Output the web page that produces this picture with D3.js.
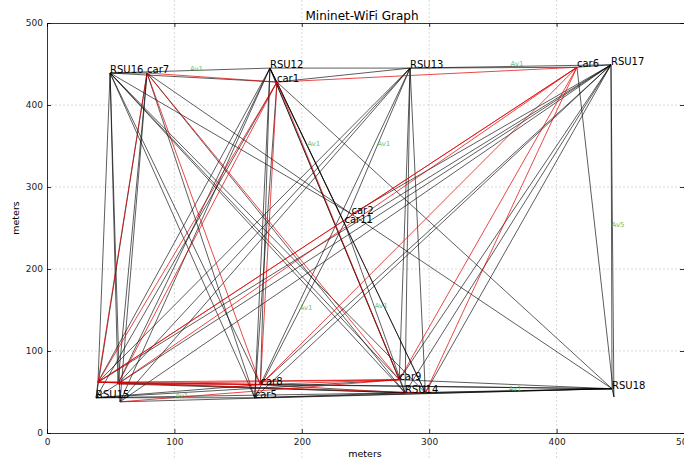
<!DOCTYPE html>
<meta charset="utf-8">
<style>
body { margin: 0; background: #fff; }
text { font-family: "DejaVu Sans", sans-serif; }
.grid line { stroke: #c8c8c8; stroke-dasharray: 2,2; stroke-width: 0.7px; }
.axis path, .axis line { stroke: #000; stroke-width: 0.8px; }
.axis text { font-size: 9px; fill: #222; font-family: "DejaVu Sans", sans-serif; }
.links line { stroke-width: 0.8px; }
.names text { font-size: 10px; fill: #000; }
.tags text { font-size: 7px; fill: #5cb85c; opacity: 0.9; }
</style>
<svg></svg>
<script src="https://d3js.org/d3.v7.min.js"></script>
<script>

// node positions in meters
var nodeIds    = ["RSU16","car7","RSU12","car1","RSU13","car6","RSU17","car2","car11","RSU18",
                  "car13","car3","car4","RSU15","car10","car8","car5","car9","RSU14","car12"]
var nodeLabels = ["RSU16","car7","RSU12","car1","RSU13","car6","RSU17","car2","car11","RSU18",
                  "","","","RSU15","","car8","car5","car9","RSU14",""]
var nodeX = [49.5, 78.5, 175, 180.5, 285, 416, 442.7, 239, 233.5, 443.5,
             445, 40, 55.7, 38.5, 57.3, 167.5, 163, 276.5, 281, 297]
var nodeY = [439, 439, 445, 428, 445, 446, 449, 267, 256, 54,
             44, 62, 60, 43, 38, 59, 43, 65, 49, 49]

// links drawn in black
var blackLinks = [
  ["RSU16","RSU12"],["RSU16","car7"],["RSU16","car3"],["RSU16","car4"],["RSU16","car10"],
  ["RSU16","car8"],["RSU16","car5"],["RSU16","car9"],["RSU16","RSU14"],["RSU16","car12"],
  ["RSU16","car2"],["RSU16","car1"],
  ["RSU12","RSU13"],["RSU12","car1"],["RSU12","car3"],["RSU12","car4"],["RSU12","car10"],
  ["RSU12","car8"],["RSU12","car5"],["RSU12","car9"],["RSU12","RSU14"],["RSU12","car11"],
  ["RSU12","car12"],
  ["RSU13","car6"],["RSU13","RSU17"],["RSU13","car1"],["RSU13","car3"],["RSU13","car4"],
  ["RSU13","car8"],["RSU13","car9"],["RSU13","RSU14"],["RSU13","car11"],["RSU13","car12"],
  ["RSU13","car10"],
  ["RSU17","car6"],["RSU17","RSU18"],["RSU17","car13"],["RSU17","car3"],["RSU17","car4"],
  ["RSU17","car10"],["RSU17","car8"],["RSU17","car5"],["RSU17","car9"],["RSU17","RSU14"],
  ["RSU17","car2"],["RSU17","car12"],
  ["RSU18","car3"],["RSU18","car10"],["RSU18","car8"],["RSU18","car5"],["RSU18","car9"],
  ["RSU18","RSU14"],["RSU18","car12"],["RSU18","car1"],["RSU18","car13"],["RSU18","car2"],
  ["RSU15","car3"],["RSU15","car4"],["RSU15","car5"],["RSU15","car8"],["RSU15","car9"],
  ["RSU15","car7"],["RSU15","car1"],["RSU15","RSU14"],
  ["RSU14","car11"],["RSU14","car3"],["RSU14","car4"],["RSU14","car8"],["RSU14","car5"],
  ["RSU14","car12"],["car11","car5"],
  ["car7","car4"],["car7","car10"],["car7","car5"],["car7","RSU14"],["car7","car2"],
  ["car6","car13"],["car1","car12"],["car1","car5"]
]

// car to car links drawn in red
var redLinks = [
  ["car3","car6"],["car3","car6"],["car4","car6"],["car3","car9"],["car4","car9"],
  ["car3","car8"],["car4","car8"],["car8","car9"],["car7","car9"],["car7","car8"],
  ["car7","car3"],["car1","car3"],["car1","car4"],["car1","car8"],["car1","car6"],
  ["car7","car1"],["car6","car9"],["car6","car8"],["car6","car12"],["car1","car9"],
  ["car10","car9"],["car3","car12"]
]

// green link tags
var tagFrom = ["RSU16","RSU13","RSU12","RSU13","RSU17","car11","car11","RSU14","RSU15"]
var tagTo   = ["RSU12","RSU17","car11","car11","RSU18","car5","RSU14","RSU18","car5"]
var tagText = ["Av1","Av1","Av1","Av1","Av5","Av1","Av1","Av1","Av1"]

var tickValues = [0, 100, 200, 300, 400, 500]

var width = 684, height = 459
var plotLeft = 47, plotTop = 23, plotRight = 684, plotBottom = 433

var svg = d3.select("svg").attr("width", width).attr("height", height)

var x = d3.scaleLinear().domain([0, 500]).range([plotLeft, plotRight])
var y = d3.scaleLinear().domain([0, 500]).range([plotBottom, plotTop])

var pos = {}
nodeIds.forEach(function(id, i) { pos[id] = [nodeX[i], nodeY[i]] })

// grid (vertical lines run through the whole figure, as in the original)
var grid = svg.append("g").attr("class", "grid")
grid.selectAll(".gx").data(tickValues.slice(1, 5)).enter().append("line")
    .attr("x1", function(d) { return x(d) }).attr("x2", function(d) { return x(d) })
    .attr("y1", 0).attr("y2", height)
grid.selectAll(".gy").data(tickValues.slice(1, 5)).enter().append("line")
    .attr("x1", plotLeft).attr("x2", plotRight)
    .attr("y1", function(d) { return y(d) }).attr("y2", function(d) { return y(d) })

function drawLinks(list, cls, colour, opacity) {
  svg.append("g").attr("class", "links " + cls)
    .selectAll("line").data(list).enter().append("line")
      .attr("x1", function(d) { return x(pos[d[0]][0]) })
      .attr("y1", function(d) { return y(pos[d[0]][1]) })
      .attr("x2", function(d) { return x(pos[d[1]][0]) })
      .attr("y2", function(d) { return y(pos[d[1]][1]) })
      .attr("stroke", colour)
      .attr("stroke-opacity", opacity)
}
drawLinks(blackLinks, "black", "#000", 0.8)
drawLinks(redLinks, "red", "#e00000", 0.9)

// node names, baseline sits on the node
svg.append("g").attr("class", "names")
  .selectAll("text").data(nodeIds).enter().append("text")
    .attr("x", function(d, i) { return x(nodeX[i]) })
    .attr("y", function(d, i) { return y(nodeY[i]) })
    .text(function(d, i) { return nodeLabels[i] })

// link tags at the middle of the link
svg.append("g").attr("class", "tags")
  .selectAll("text").data(tagText).enter().append("text")
    .attr("x", function(d, i) { return x((pos[tagFrom[i]][0] + pos[tagTo[i]][0]) / 2) })
    .attr("y", function(d, i) { return y((pos[tagFrom[i]][1] + pos[tagTo[i]][1]) / 2) })
    .text(function(d) { return d })

// axes, ticks point inwards on all four sides
svg.append("g").attr("class", "axis")
    .attr("transform", "translate(0," + plotBottom + ")")
    .call(d3.axisBottom(x).tickValues(tickValues).tickSize(-4).tickSizeOuter(0).tickPadding(6))
svg.append("g").attr("class", "axis")
    .attr("transform", "translate(" + plotLeft + ",0)")
    .call(d3.axisLeft(y).tickValues(tickValues).tickSize(-4).tickSizeOuter(0).tickPadding(4))
svg.append("g").attr("class", "axis")
    .attr("transform", "translate(0," + plotTop + ")")
    .call(d3.axisTop(x).tickValues(tickValues).tickSize(-4).tickSizeOuter(0).tickFormat(""))
svg.append("g").attr("class", "axis")
    .attr("transform", "translate(" + plotRight + ",0)")
    .call(d3.axisRight(y).tickValues(tickValues).tickSize(-4).tickSizeOuter(0).tickFormat(""))

svg.append("text")
    .attr("x", 362).attr("y", 20)
    .attr("text-anchor", "middle")
    .style("font-size", "12px")
    .text("Mininet-WiFi Graph")

svg.append("text")
    .attr("x", 365).attr("y", 457)
    .attr("text-anchor", "middle")
    .style("font-size", "9.5px")
    .text("meters")

svg.append("text")
    .attr("transform", "translate(19,218) rotate(-90)")
    .attr("text-anchor", "middle")
    .style("font-size", "9.5px")
    .text("meters")

</script>
